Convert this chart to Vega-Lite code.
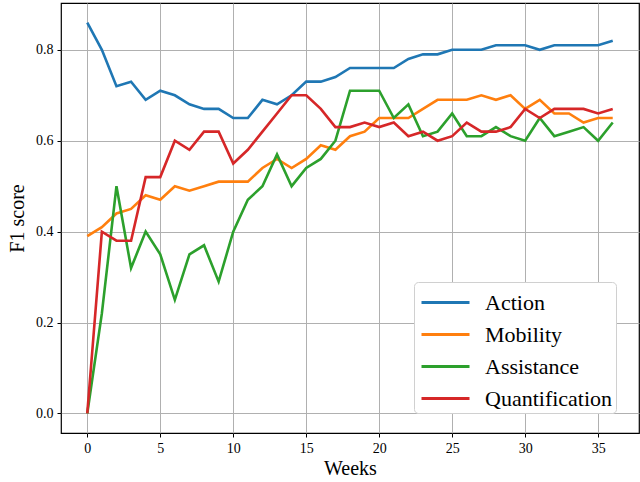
{
  "$schema": "https://vega.github.io/schema/vega-lite/v6.json",
  "autosize": "none",
  "width": 578,
  "height": 430,
  "padding": {"left": 61, "top": 3, "right": 1, "bottom": 49},
  "background": "white",
  "config": {
    "view": {"stroke": "black", "strokeWidth": 1.2},
    "font": "'Liberation Serif', 'Times New Roman', Times, serif"
  },
  "data": {"values": [
    {"w":0,"Action":0.86,"Mobility":0.39,"Assistance":0.00,"Quantification":0.00},
    {"w":1,"Action":0.80,"Mobility":0.41,"Assistance":0.22,"Quantification":0.40},
    {"w":2,"Action":0.72,"Mobility":0.44,"Assistance":0.50,"Quantification":0.38},
    {"w":3,"Action":0.73,"Mobility":0.45,"Assistance":0.32,"Quantification":0.38},
    {"w":4,"Action":0.69,"Mobility":0.48,"Assistance":0.40,"Quantification":0.52},
    {"w":5,"Action":0.71,"Mobility":0.47,"Assistance":0.35,"Quantification":0.52},
    {"w":6,"Action":0.70,"Mobility":0.50,"Assistance":0.25,"Quantification":0.60},
    {"w":7,"Action":0.68,"Mobility":0.49,"Assistance":0.35,"Quantification":0.58},
    {"w":8,"Action":0.67,"Mobility":0.50,"Assistance":0.37,"Quantification":0.62},
    {"w":9,"Action":0.67,"Mobility":0.51,"Assistance":0.29,"Quantification":0.62},
    {"w":10,"Action":0.65,"Mobility":0.51,"Assistance":0.40,"Quantification":0.55},
    {"w":11,"Action":0.65,"Mobility":0.51,"Assistance":0.47,"Quantification":0.58},
    {"w":12,"Action":0.69,"Mobility":0.54,"Assistance":0.50,"Quantification":0.62},
    {"w":13,"Action":0.68,"Mobility":0.56,"Assistance":0.57,"Quantification":0.66},
    {"w":14,"Action":0.70,"Mobility":0.54,"Assistance":0.50,"Quantification":0.70},
    {"w":15,"Action":0.73,"Mobility":0.56,"Assistance":0.54,"Quantification":0.70},
    {"w":16,"Action":0.73,"Mobility":0.59,"Assistance":0.56,"Quantification":0.67},
    {"w":17,"Action":0.74,"Mobility":0.58,"Assistance":0.60,"Quantification":0.63},
    {"w":18,"Action":0.76,"Mobility":0.61,"Assistance":0.71,"Quantification":0.63},
    {"w":19,"Action":0.76,"Mobility":0.62,"Assistance":0.71,"Quantification":0.64},
    {"w":20,"Action":0.76,"Mobility":0.65,"Assistance":0.71,"Quantification":0.63},
    {"w":21,"Action":0.76,"Mobility":0.65,"Assistance":0.65,"Quantification":0.64},
    {"w":22,"Action":0.78,"Mobility":0.65,"Assistance":0.68,"Quantification":0.61},
    {"w":23,"Action":0.79,"Mobility":0.67,"Assistance":0.61,"Quantification":0.62},
    {"w":24,"Action":0.79,"Mobility":0.69,"Assistance":0.62,"Quantification":0.60},
    {"w":25,"Action":0.80,"Mobility":0.69,"Assistance":0.66,"Quantification":0.61},
    {"w":26,"Action":0.80,"Mobility":0.69,"Assistance":0.61,"Quantification":0.64},
    {"w":27,"Action":0.80,"Mobility":0.70,"Assistance":0.61,"Quantification":0.62},
    {"w":28,"Action":0.81,"Mobility":0.69,"Assistance":0.63,"Quantification":0.62},
    {"w":29,"Action":0.81,"Mobility":0.70,"Assistance":0.61,"Quantification":0.63},
    {"w":30,"Action":0.81,"Mobility":0.67,"Assistance":0.60,"Quantification":0.67},
    {"w":31,"Action":0.80,"Mobility":0.69,"Assistance":0.65,"Quantification":0.65},
    {"w":32,"Action":0.81,"Mobility":0.66,"Assistance":0.61,"Quantification":0.67},
    {"w":33,"Action":0.81,"Mobility":0.66,"Assistance":0.62,"Quantification":0.67},
    {"w":34,"Action":0.81,"Mobility":0.64,"Assistance":0.63,"Quantification":0.67},
    {"w":35,"Action":0.81,"Mobility":0.65,"Assistance":0.60,"Quantification":0.66},
    {"w":36,"Action":0.82,"Mobility":0.65,"Assistance":0.64,"Quantification":0.67}
  ]},
  "transform": [
    {"fold": ["Action", "Mobility", "Assistance", "Quantification"], "as": ["series", "score"]}
  ],
  "mark": {"type": "line", "strokeWidth": 2.6, "clip": true},
  "encoding": {
    "x": {
      "field": "w", "type": "quantitative",
      "scale": {"domain": [-1.8, 37.8], "nice": false, "zero": false},
      "axis": {
        "title": "Weeks", "titleFontSize": 20, "titleFontWeight": "normal", "titleColor": "black", "titlePadding": 3,
        "values": [0, 5, 10, 15, 20, 25, 30, 35], "format": "d",
        "labelFontSize": 14, "labelColor": "black", "labelPadding": 4,
        "tickColor": "black", "tickSize": 4, "domain": false,
        "grid": true, "gridColor": "#b0b0b0", "gridWidth": 1
      }
    },
    "y": {
      "field": "score", "type": "quantitative",
      "scale": {"domain": [-0.043, 0.903], "nice": false, "zero": false},
      "axis": {
        "title": "F1 score", "titleFontSize": 20, "titleFontWeight": "normal", "titleColor": "black", "titlePadding": 8,
        "values": [0, 0.2, 0.4, 0.6, 0.8], "format": ".1f",
        "labelFontSize": 14, "labelColor": "black", "labelPadding": 4,
        "tickColor": "black", "tickSize": 4, "domain": false,
        "grid": true, "gridColor": "#b0b0b0", "gridWidth": 1
      }
    },
    "color": {
      "field": "series", "type": "nominal",
      "scale": {"domain": ["Action", "Mobility", "Assistance", "Quantification"], "range": ["#1f77b4", "#ff7f0e", "#2ca02c", "#d62728"]},
      "legend": {
        "title": null, "orient": "none", "legendX": 353, "legendY": 279,
        "symbolType": "M-1,0H2", "symbolSize": 1024, "symbolStrokeWidth": 3, "symbolOffset": 3,
        "labelFontSize": 22, "labelColor": "black", "labelOffset": 30,
        "rowPadding": 3, "padding": 3,
        "fillColor": "white", "strokeColor": "#d0d0d0", "cornerRadius": 4
      }
    }
  }
}
